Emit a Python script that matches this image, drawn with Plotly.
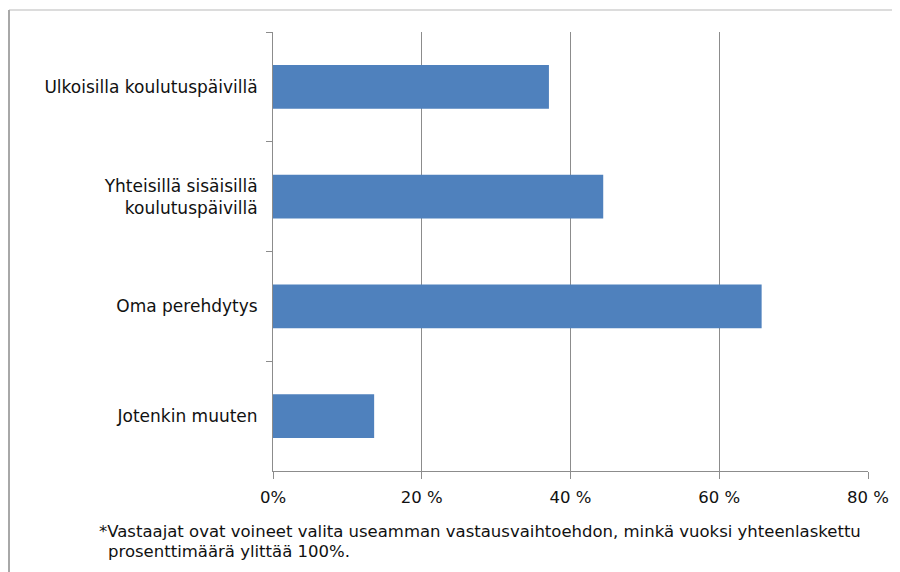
import plotly.graph_objects as go

categories = [
    "Ulkoisilla koulutuspäivillä",
    "Yhteisillä sisäisillä<br>koulutuspäivillä",
    "Oma perehdytys",
    "Jotenkin muuten",
]
values = [37.1, 44.4, 65.7, 13.6]
tick_vals = [0, 20, 40, 60, 80]
tick_text = ["0%", "20 %", "40 %", "60 %", "80 %"]
footnote_1 = "*Vastaajat ovat voineet valita useamman vastausvaihtoehdon, minkä vuoksi yhteenlaskettu"
footnote_2 = "prosenttimäärä ylittää 100%."

# page is offset by the 8px default body margin
OFF = 8
W, H = 900 - OFF, 572 - OFF
ML, MR, MT, MB = 273 - OFF, 32, 32 - OFF, 101
PW = W - ML - MR
PH = H - MT - MB

def px_x(px):
    return (px - OFF - ML) / PW

def px_y(py):
    return (H - MB - (py - OFF)) / PH

FONT = "DejaVu Sans"
TXT = "#111111"
GRID = "#8c8c8c"

fig = go.Figure(
    go.Bar(
        y=categories,
        x=values,
        orientation="h",
        marker=dict(color="#4F81BD", line=dict(width=0)),
        hoverinfo="skip",
    )
)

fig.update_layout(
    width=W,
    height=H,
    margin=dict(l=ML, r=MR, t=MT, b=MB),
    paper_bgcolor="white",
    plot_bgcolor="white",
    bargap=0.6,
    showlegend=False,
    font=dict(family=FONT, size=16, color=TXT),
    xaxis=dict(
        range=[0, 80],
        tickvals=tick_vals,
        ticktext=tick_text,
        showgrid=True,
        gridcolor=GRID,
        gridwidth=1,
        showline=True,
        linecolor=GRID,
        linewidth=1,
        ticks="outside",
        ticklen=7,
        tickcolor=GRID,
        ticklabelstandoff=4,
        zeroline=False,
        fixedrange=True,
        tickfont=dict(family=FONT, size=16.5, color=TXT),
    ),
    yaxis=dict(
        categoryorder="array",
        categoryarray=categories,
        autorange="reversed",
        showgrid=False,
        showline=True,
        linecolor=GRID,
        linewidth=1,
        ticks="outside",
        ticklen=6,
        tickcolor=GRID,
        tickson="boundaries",
        ticklabelstandoff=11,
        zeroline=False,
        fixedrange=True,
        tickfont=dict(family=FONT, size=17, color=TXT),
    ),
    shapes=[
        dict(type="line", xref="paper", yref="paper",
             x0=px_x(9), x1=px_x(900), y0=px_y(10), y1=px_y(10),
             line=dict(color="#dcdcdc", width=2)),
        dict(type="line", xref="paper", yref="paper",
             x0=px_x(9), x1=px_x(9), y0=px_y(10), y1=px_y(572),
             line=dict(color="#a8a8a8", width=2)),
    ],
    annotations=[
        dict(text=footnote_1, xref="paper", yref="paper",
             x=px_x(97), y=px_y(531), xanchor="left", yanchor="middle",
             showarrow=False, font=dict(family=FONT, size=16.5, color=TXT)),
        dict(text=footnote_2, xref="paper", yref="paper",
             x=px_x(106), y=px_y(551), xanchor="left", yanchor="middle",
             showarrow=False, font=dict(family=FONT, size=16.5, color=TXT)),
    ],
)

fig.write_html("out.html")
